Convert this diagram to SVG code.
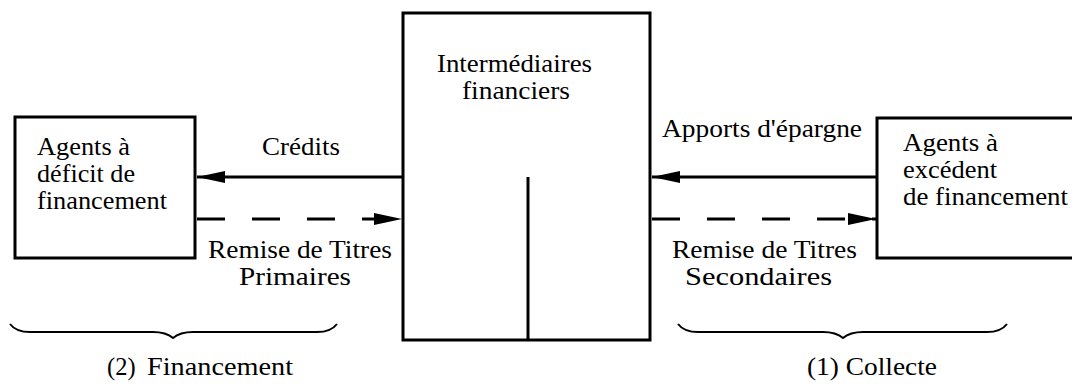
<svg xmlns="http://www.w3.org/2000/svg" width="1072" height="385" viewBox="0 0 1072 385">
<style>
  text { font-family: "Liberation Serif", "Times New Roman", serif; font-size: 24.5px; fill: #000; }
  .box { fill: #fff; stroke: #000; stroke-width: 3; }
  .solid { stroke: #000; stroke-width: 3; fill: none; }
  .dash { stroke: #000; stroke-width: 3; fill: none; stroke-dasharray: 28 27; }
  .brace { stroke: #000; stroke-width: 2; fill: none; }
</style>
<defs>
  <marker id="arr" viewBox="0 0 28 12" refX="28" refY="6" markerWidth="28" markerHeight="12" markerUnits="userSpaceOnUse" orient="auto">
    <path d="M0,0 L28,6 L0,12 Z" fill="#000"/>
  </marker>
</defs>
<rect width="1072" height="385" fill="#fff"/>

<g id="agents-deficit">
  <rect class="box" x="15" y="117" width="180" height="141"/>
  <text x="37" y="155" textLength="93" lengthAdjust="spacingAndGlyphs">Agents à</text>
  <text x="37" y="182" textLength="98" lengthAdjust="spacingAndGlyphs">déficit de</text>
  <text x="37" y="209" textLength="130" lengthAdjust="spacingAndGlyphs">financement</text>
</g>

<g id="intermediaires">
  <rect class="box" x="403" y="13" width="247" height="327"/>
  <line class="solid" x1="528" y1="177" x2="528" y2="340"/>
  <text x="437" y="72" textLength="155" lengthAdjust="spacingAndGlyphs">Intermédiaires</text>
  <text x="462" y="99" textLength="108" lengthAdjust="spacingAndGlyphs">financiers</text>
</g>

<g id="agents-excedent">
  <path class="box" d="M1080,118 L877,118 L877,258 L1080,258"/>
  <text x="903" y="151" textLength="95" lengthAdjust="spacingAndGlyphs">Agents à</text>
  <text x="903" y="178" textLength="94" lengthAdjust="spacingAndGlyphs">excédent</text>
  <text x="903" y="205" textLength="165" lengthAdjust="spacingAndGlyphs">de financement</text>
</g>

<g id="connectors">
  <line class="solid" x1="403" y1="177" x2="197" y2="177" marker-end="url(#arr)"/>
  <line class="dash" x1="197" y1="219" x2="402" y2="219" marker-end="url(#arr)"/>
  <line class="solid" x1="877" y1="177" x2="652" y2="177" marker-end="url(#arr)"/>
  <line class="dash" x1="652" y1="219" x2="876" y2="219" marker-end="url(#arr)"/>
  <text x="262" y="155" textLength="78" lengthAdjust="spacingAndGlyphs">Crédits</text>
  <text x="208" y="258" textLength="184" lengthAdjust="spacingAndGlyphs">Remise de Titres</text>
  <text x="239" y="285" textLength="112" lengthAdjust="spacingAndGlyphs">Primaires</text>
  <text x="662" y="137" textLength="200" lengthAdjust="spacingAndGlyphs">Apports d'épargne</text>
  <text x="672" y="258" textLength="185" lengthAdjust="spacingAndGlyphs">Remise de Titres</text>
  <text x="685" y="285" textLength="147" lengthAdjust="spacingAndGlyphs">Secondaires</text>
</g>

<g id="brace-financement">
  <path class="brace" d="M10,324 Q16,332 30,332 L153,332 Q166,332 173,338 Q180,332 193,332 L317,332 Q331,332 337,324"/>
  <text y="375"><tspan x="107">(2)</tspan><tspan x="147" textLength="146" lengthAdjust="spacingAndGlyphs">Financement</tspan></text>
</g>

<g id="brace-collecte">
  <path class="brace" d="M678,324 Q684,332 698,332 L823,332 Q836,332 843,338 Q850,332 863,332 L987,332 Q1001,332 1007,324"/>
  <text x="807" y="375" textLength="130" lengthAdjust="spacingAndGlyphs">(1) Collecte</text>
</g>
</svg>
